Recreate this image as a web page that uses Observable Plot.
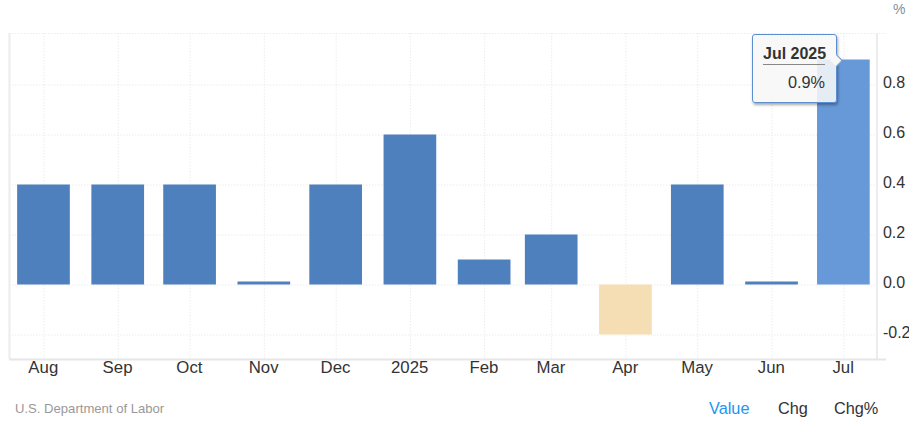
<!DOCTYPE html>
<html>
<head>
<meta charset="utf-8">
<script src="https://cdn.jsdelivr.net/npm/d3@7"></script>
<script src="https://cdn.jsdelivr.net/npm/@observablehq/plot@0.6"></script>
<style>
html,body{margin:0;padding:0;background:#fff;font-family:"Liberation Sans",Arial,sans-serif;}
#wrap{position:relative;width:909px;height:428px;overflow:hidden;}
#chart svg{display:block;}
#foot{position:absolute;left:0;top:396px;width:909px;height:32px;}
#foot span{position:absolute;white-space:nowrap;}
#src{left:15px;top:5px;font-size:13.1px;color:#999;}
.opt{top:3px;font-size:16.3px;color:#333;}
#tip{position:absolute;left:752px;top:34px;width:83px;height:67px;box-sizing:content-box;border:1px solid #5b8fd2;border-radius:3px;background:rgba(247,247,247,.88);box-shadow:1px 2px 3px rgba(0,0,0,.35);}
#tip:after{content:"";position:absolute;left:79px;top:21px;width:8px;height:8px;background:#f7f7f7;transform:rotate(45deg);border-top:1px solid #5b8fd2;border-right:1px solid #5b8fd2;}
#tip .t{position:absolute;left:10px;top:10px;width:62px;font-size:16px;font-weight:bold;color:#333;text-align:right;padding-bottom:1px;border-bottom:1px solid #888;white-space:nowrap;}
#tip .v{position:absolute;left:10px;top:38px;width:62px;font-size:16.3px;color:#333;text-align:right;}
</style>
</head>
<body>
<div id="wrap">
<div id="chart"></div>
<div id="tip"><div class="t">Jul 2025</div><div class="v">0.9%</div></div>
<div id="foot">
<span id="src">U.S. Department of Labor</span>
<span class="opt" style="left:709px;color:#2196f3">Value</span>
<span class="opt" style="left:778px">Chg</span>
<span class="opt" style="left:834px">Chg%</span>
</div>
</div>
<script>
const months = ["2024-08-01","2024-09-01","2024-10-01","2024-11-01","2024-12-01","2025-01-01","2025-02-01","2025-03-01","2025-04-01","2025-05-01","2025-06-01","2025-07-01"];
const tickLabels = ["Aug","Sep","Oct","Nov","Dec","2025","Feb","Mar","Apr","May","Jun","Jul"];
const values = [0.4,0.4,0.4,0.012,0.4,0.6,0.1,0.2,-0.2,0.4,0.012,0.9];
const yTicks = [-0.2,0,0.2,0.4,0.6,0.8];
const unit = "%";

const DAY = 864e5;
const dates = months.map(d => new Date(d + "T00:00:00Z"));
const rows = dates.map((date,i) => ({
  x1: new Date(+date - 11*DAY),
  x2: new Date(+date + 11*DAY),
  value: values[i],
  state: values[i] < 0 ? "down" : i === dates.length-1 ? "active" : "up"
}));
const labelOf = new Map(dates.map((d,i)=>[+d,tickLabels[i]]));
const gridColor = "#ececec";
const xMin = new Date(+dates[0]-14.4*DAY), xMax = new Date(+dates[11]+13.8*DAY);
const xOver = new Date(+xMax + 4*DAY);

const plot = Plot.plot({
  width: 909, height: 396,
  marginLeft: 9, marginRight: 23, marginTop: 33, marginBottom: 37,
  style: {fontFamily: '"Liberation Sans",Arial,sans-serif', background:"#fff"},
  x: {type:"utc", domain:[xMin, xOver]},
  y: {domain:[-0.298,1.006], axis:null},
  color: {domain:["up","down","active"], range:["#4e80bd","#f5deb3","#6798d8"]},
  marks: [
    Plot.ruleX(dates, {stroke:gridColor, strokeDasharray:"1.5 1.5"}),
    Plot.ruleY(yTicks, {x1:xMin, x2:xMax, stroke:gridColor, strokeDasharray:"1.5 1.5"}),
    Plot.ruleY([1.006], {x1:xMin, x2:xOver, stroke:gridColor, strokeDasharray:"1.5 1.5"}),
    Plot.rectY(rows, {x1:"x1", x2:"x2", y:"value", fill:"state"}),
    Plot.ruleX([xMin, xMax], {stroke:"#ececec", strokeWidth:2}),
    Plot.ruleY([-0.298], {x1:xMin, x2:xOver, stroke:"#e6e6e6", strokeWidth:2}),
    Plot.axisX({ticks:dates, tickFormat:d=>labelOf.get(+d), tickSize:0, tickPadding:2, fontSize:16.8, fill:"#333", dx:-0.7, label:null}),
    Plot.text(yTicks, {x:xMax, y:d=>d, text:d=>d3.format(".1f")(d).replace("\u2212","-"), textAnchor:"start", dx:6, dy:-2, fontSize:16, fill:"#333"}),
    Plot.text([unit], {frameAnchor:"top-right", dx:19, dy:-29, text:d=>d, fontSize:14, fill:"#7f8f9c"})
  ]
});
document.getElementById("chart").appendChild(plot);
</script>
</body>
</html>
